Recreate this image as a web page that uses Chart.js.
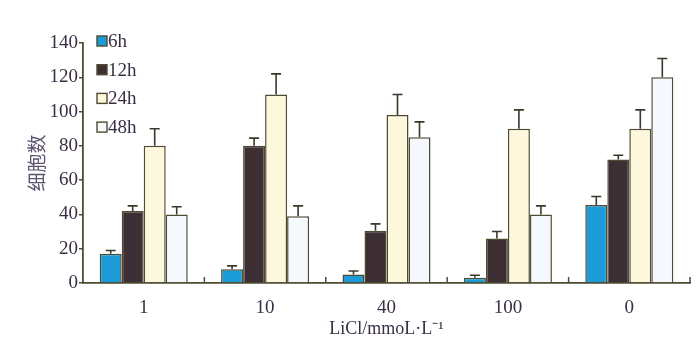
<!DOCTYPE html>
<html><head><meta charset="utf-8">
<script src="https://cdn.jsdelivr.net/npm/chart.js@4/dist/chart.umd.min.js"></script>
<style>html,body{margin:0;padding:0;background:#fff}#wrap{width:700px;height:355px}</style>
</head><body><div id="wrap"><canvas id="c" width="700" height="355"></canvas></div>
<script>
const categories = ['1', '10', '40', '100', '0'];
const seriesLabels = ['6h', '12h', '24h', '48h'];
const v6h = [17, 8, 5, 3, 45.5];
const e6h = [2, 2, 2, 1.5, 5];
const v12h = [42, 80, 30.5, 26, 72];
const e12h = [3, 4.5, 4, 4, 2.5];
const v24h = [80, 110, 98, 90, 90];
const e24h = [10, 12, 12, 11, 11];
const v48h = [40, 39, 85, 40, 120];
const e48h = [4.5, 6, 9, 5, 11];
const yTicks = [0, 20, 40, 60, 80, 100, 120, 140];

const fills = ['#1b9bd7', '#3d2f33', '#fdf8db', '#f5f8fd'];
const edge = '#4d4b33';
const textCol = '#3a2e45';
const values = [v6h, v12h, v24h, v48h];
const errors = [e6h, e12h, e24h, e48h];

const errorBars = {
  id: 'errorBars',
  afterDatasetsDraw(chart) {
    const ctx = chart.ctx, y = chart.scales.y;
    ctx.save();
    ctx.strokeStyle = '#3a392a'; ctx.lineWidth = 1.6;
    chart.data.datasets.forEach((ds, di) => {
      const meta = chart.getDatasetMeta(di);
      meta.data.forEach((bar, i) => {
        const top = y.getPixelForValue(ds.data[i]);
        const end = y.getPixelForValue(ds.data[i] + ds.err[i]);
        ctx.beginPath();
        ctx.moveTo(bar.x, top); ctx.lineTo(bar.x, end);
        ctx.moveTo(bar.x - 5, end); ctx.lineTo(bar.x + 5, end);
        ctx.stroke();
      });
    });
    const a = chart.chartArea;
    const n = categories.length, w = (a.right - a.left) / n;
    ctx.strokeStyle = edge; ctx.lineWidth = 1.5;
    for (let k = 1; k <= n; k++) {
      const px = a.left + k * w;
      ctx.beginPath(); ctx.moveTo(px, a.bottom); ctx.lineTo(px, a.bottom - 6); ctx.stroke();
    }
    ctx.font = '19px "Liberation Serif"';
    ctx.textBaseline = 'middle';
    chart.data.datasets.forEach((ds, di) => {
      const cy = a.top - 2 + di * 28.7;
      const bx = a.left + 14;
      ctx.fillStyle = ds.backgroundColor;
      ctx.fillRect(bx, cy - 5, 10, 10);
      ctx.strokeStyle = edge; ctx.lineWidth = 1.4;
      ctx.strokeRect(bx, cy - 5, 10, 10);
      ctx.fillStyle = textCol;
      ctx.fillText(ds.label, bx + 11, cy + 1);
    });
    ctx.restore();
  }
};

new Chart(document.getElementById('c'), {
  type: 'bar',
  data: {
    labels: categories,
    datasets: seriesLabels.map((l, i) => ({
      label: l, data: values[i], err: errors[i],
      backgroundColor: fills[i], borderColor: edge, borderWidth: 1.5,
      categoryPercentage: 0.725, barPercentage: 1
    }))
  },
  options: {
    responsive: false, animation: false,
    layout: { padding: { top: 43, right: 10, left: 0, bottom: 0 } },
    plugins: { legend: { display: false }, tooltip: { enabled: false } },
    scales: {
      x: {
        afterFit(s) { s.height = 72; },
        grid: { display: false, drawTicks: false },
        border: { display: true, color: edge, width: 1.8 },
        ticks: { color: textCol, font: { family: '"Liberation Serif"', size: 19 }, padding: 14 },
        title: { display: true, text: 'LiCl/mmoL·L⁻¹', color: textCol, font: { family: '"Liberation Serif"', size: 18 }, padding: { top: 0, bottom: 15 } }
      },
      y: {
        min: 0, max: 140,
        afterFit(s) { s.width = 83; },
        afterBuildTicks(s) { s.ticks = yTicks.map(v => ({ value: v })); },
        grid: { drawOnChartArea: false, drawTicks: true, tickLength: 4, color: edge, lineWidth: 1.5 },
        border: { display: true, color: edge, width: 1.8 },
        ticks: { color: textCol, font: { family: '"Liberation Serif"', size: 19 }, padding: 1 },
        title: { display: true, text: '细胞数', color: '#5e5470', font: { family: '"Noto Sans CJK SC"', size: 19 }, padding: { top: 25, bottom: 0 } }
      }
    }
  },
  plugins: [errorBars]
});
</script></body></html>
